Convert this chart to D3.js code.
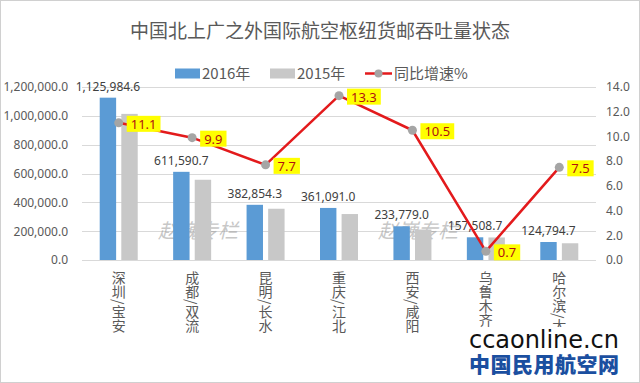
<!DOCTYPE html>
<html><head><meta charset="utf-8">
<script src="https://cdn.jsdelivr.net/npm/d3@7"></script>
<style>
html,body{margin:0;padding:0;background:#fff;}
svg{display:block;font-family:"Noto Sans CJK SC","Noto Sans",sans-serif;}
</style></head>
<body><svg id="c" width="640" height="383"></svg>
<script>
const categories = ["深圳/宝安","成都/双流","昆明/长水","重庆/江北","西安/咸阳","乌鲁木齐/地窝堡","哈尔滨/太平"];
const values2016 = [1125984.6, 611590.7, 382854.3, 361091.0, 233779.0, 157508.7, 124794.7];
const values2015 = [1013500, 556500, 355500, 318700, 211600, 156400, 116100];
const growth = [11.1, 9.9, 7.7, 13.3, 10.5, 0.7, 7.5];
const leftTicks = [0, 200000, 400000, 600000, 800000, 1000000, 1200000];
const rightTicks = [0, 2, 4, 6, 8, 10, 12, 14];
const seriesNames = ["2016年", "2015年", "同比增速%"];
const titleText = "中国北上广之外国际航空枢纽货邮吞吐量状态";

const svg = d3.select("#c");
const W = 640, H = 383;
const plot = {l: 82, r: 596, t: 87, b: 260};

svg.append("rect").attr("x",0.5).attr("y",0.5).attr("width",W-1).attr("height",H-1)
  .attr("fill","#fff").attr("stroke","#d0d0d0");

const x0 = d3.scaleBand().domain(categories).range([plot.l, plot.r]);
const xi = d3.scaleBand().domain(["a","b"]).range([x0.bandwidth()/2 - 19, x0.bandwidth()/2 + 19]).paddingInner(0.24);
const yL = d3.scaleLinear().domain([0, 1200000]).range([plot.b, plot.t]);
const yR = d3.scaleLinear().domain([0, 14]).range([plot.b, plot.t]);

// gridlines
svg.append("g").selectAll("line").data(leftTicks).join("line")
  .attr("x1", plot.l).attr("x2", plot.r)
  .attr("y1", d => Math.round(yL(d))+0.5).attr("y2", d => Math.round(yL(d))+0.5)
  .attr("stroke", "#d9d9d9").attr("stroke-width", 1);

// left axis
const fmtL = d => d3.format(",.1f")(d);
const axL = svg.append("g").attr("transform", `translate(${plot.l},0)`)
  .call(d3.axisLeft(yL).tickValues(leftTicks).tickFormat(fmtL).tickSize(0).tickPadding(14));
axL.select(".domain").remove();
axL.selectAll("text").attr("fill","#595959").style("font-size","12px").style("font-family","'Noto Sans','Open Sans',sans-serif");

const axR = svg.append("g").attr("transform", `translate(${plot.r},0)`)
  .call(d3.axisRight(yR).tickValues(rightTicks).tickFormat(d3.format(".1f")).tickSize(0).tickPadding(10));
axR.select(".domain").remove();
axR.selectAll("text").attr("fill","#595959").style("font-size","12px").style("font-family","'Noto Sans','Open Sans',sans-serif");

// watermarks
[[198, 238], [418, 238]].forEach(p => {
  svg.append("text").attr("x", p[0]).attr("y", p[1]).attr("text-anchor","middle")
    .attr("fill","#9a9a9a").attr("opacity",0.55).style("font-size","20px").style("font-style","italic")
    .attr("transform", `skewX(0)`)
    .text("赵巍专栏");
});

// bars
const g = svg.append("g");
g.selectAll(".b16").data(categories).join("rect")
  .attr("x", (d) => x0(d) + xi("a")).attr("width", xi.bandwidth())
  .attr("y", (d,i) => yL(values2016[i])).attr("height", (d,i) => plot.b - yL(values2016[i]))
  .attr("fill", "#5B9BD5");
g.selectAll(".b15").data(categories).join("rect")
  .attr("x", (d) => x0(d) + xi("b")).attr("width", xi.bandwidth())
  .attr("y", (d,i) => yL(values2015[i])).attr("height", (d,i) => plot.b - yL(values2015[i]))
  .attr("fill", "#C8C8C8");

// bar labels
g.selectAll(".bl").data(categories).join("text")
  .attr("x", d => x0(d) + xi("a") + xi.bandwidth()/2)
  .attr("y", (d,i) => yL(values2016[i]) - 7)
  .attr("text-anchor","middle").attr("fill","#404040")
  .style("font-size","12px").style("font-family","'Noto Sans','Open Sans',sans-serif")
  .text((d,i) => d3.format(",.1f")(values2016[i]));

// line
const cx = d => x0(d) + x0.bandwidth()/2;
const line = d3.line().x((d,i) => cx(categories[i])).y(d => yR(d));
svg.append("path").datum(growth).attr("d", line).attr("fill","none")
  .attr("stroke","#E31A1C").attr("stroke-width",2.5).attr("stroke-linejoin","round");
svg.append("g").selectAll("circle").data(growth).join("circle")
  .attr("cx", (d,i) => cx(categories[i])).attr("cy", d => yR(d)).attr("r", 4.5)
  .attr("fill","#A5A5A5");

// line labels
const lg = svg.append("g").selectAll("g").data(growth).join("g")
  .attr("transform", (d,i) => `translate(${cx(categories[i]) + 8},${yR(d) + 1})`);
lg.each(function(d){
  const s = d3.select(this);
  const t = s.append("text").attr("x", 4).attr("y", 5).attr("fill","#B01010")
    .style("font-size","13px").style("font-family","'Noto Sans','Open Sans',sans-serif").text(d3.format(".1f")(d));
  const w = t.node().getComputedTextLength();
  s.insert("rect","text").attr("x",0).attr("y",-8).attr("width", w + 8).attr("height", 16).attr("fill","#FFFF00");
});

// category labels (vertical)
svg.append("g").selectAll("text").data(categories).join("text")
  .attr("x", d => cx(d)).attr("y", 271)
  .style("writing-mode","vertical-rl")
  .attr("fill","#595959").style("font-size","14px")
  .text(d => d);

// title
svg.append("text").attr("x", 320).attr("y", 38).attr("text-anchor","middle")
  .attr("fill","#595959").style("font-size","19px").text(titleText);

// legend
const lgY = 73.5;
svg.append("rect").attr("x",175).attr("y",lgY-5).attr("width",25).attr("height",10).attr("fill","#5B9BD5");
svg.append("text").attr("x",202).attr("y",lgY+5.5).attr("fill","#595959").style("font-size","15px").text(seriesNames[0]);
svg.append("rect").attr("x",270).attr("y",lgY-5).attr("width",25).attr("height",10).attr("fill","#C8C8C8");
svg.append("text").attr("x",297).attr("y",lgY+5.5).attr("fill","#595959").style("font-size","15px").text(seriesNames[1]);
svg.append("line").attr("x1",365).attr("x2",392).attr("y1",lgY).attr("y2",lgY).attr("stroke","#E31A1C").attr("stroke-width",2.5);
svg.append("circle").attr("cx",378.5).attr("cy",lgY).attr("r",4).attr("fill","#A5A5A5");
svg.append("text").attr("x",394).attr("y",lgY+5.5).attr("fill","#595959").style("font-size","15px").text(seriesNames[2]);

// site logo
svg.append("rect").attr("x",466).attr("y",327).attr("width",158).attr("height",48).attr("fill","#fff");
svg.append("text").attr("x",544).attr("y",348).attr("text-anchor","middle").attr("fill","#111")
  .style("font-size","24px").style("font-family","'DejaVu Sans','Noto Sans',sans-serif").attr("textLength",150).text("ccaonline.cn");
svg.append("text").attr("x",544).attr("y",372).attr("text-anchor","middle").attr("fill","#1B4FA0")
  .style("font-size","21px").style("font-weight","900").attr("textLength",150).text("中国民用航空网");
</script></body></html>
